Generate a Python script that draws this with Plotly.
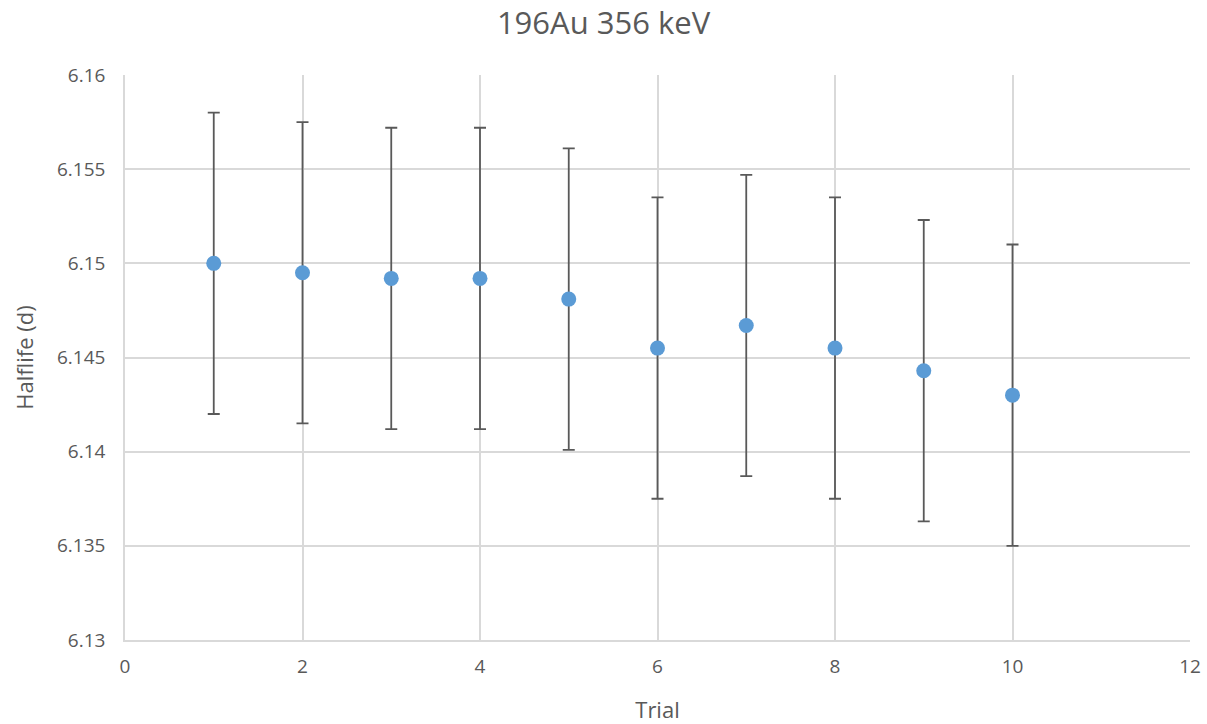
import plotly.graph_objects as go

# Half-life measurements per trial (days) and their uncertainties
trials = [1, 2, 3, 4, 5, 6, 7, 8, 9, 10]
halflife = [6.1500, 6.1495, 6.1492, 6.1492, 6.1481, 6.1455, 6.1467, 6.1455, 6.1443, 6.1430]
uncertainty = [0.008, 0.008, 0.008, 0.008, 0.008, 0.008, 0.008, 0.008, 0.008, 0.008]

x_ticks = [0, 2, 4, 6, 8, 10, 12]
y_ticks = [6.13, 6.135, 6.14, 6.145, 6.15, 6.155, 6.16]
y_tick_text = ["6.13", "6.135", "6.14", "6.145", "6.15", "6.155", "6.16"]

text_color = "#595959"
grid_color = "#d9d9d9"
font_family = "Open Sans, Liberation Sans, sans-serif"

fig = go.Figure(
    go.Scatter(
        x=trials,
        y=halflife,
        mode="markers",
        marker=dict(color="#5b9bd5", size=15),
        error_y=dict(
            type="data",
            array=uncertainty,
            visible=True,
            color=text_color,
            thickness=1.8,
            width=6,
        ),
        showlegend=False,
    )
)

fig.update_layout(
    width=1207,
    height=724,
    paper_bgcolor="white",
    plot_bgcolor="white",
    margin=dict(l=125, r=17, t=75, b=84, autoexpand=False),
    title=dict(
        text="196Au 356 keV",
        x=0.5,
        xanchor="center",
        y=0.968,
        yanchor="middle",
        font=dict(family=font_family, size=31, color=text_color),
    ),
    font=dict(family=font_family, color=text_color, size=19),
)

fig.update_xaxes(
    range=[0, 12],
    tickvals=x_ticks,
    ticktext=[str(v) for v in x_ticks],
    showgrid=True,
    gridcolor=grid_color,
    gridwidth=1.5,
    zeroline=False,
    showline=True,
    linecolor=grid_color,
    linewidth=1.5,
    ticks="",
    automargin=False,
    ticklabelstandoff=8,
    tickfont=dict(size=19, color=text_color),
    title=dict(text="Trial", font=dict(size=22, color=text_color), standoff=26),
)

fig.update_yaxes(
    range=[6.13, 6.16],
    tickvals=y_ticks,
    ticktext=y_tick_text,
    showgrid=True,
    gridcolor=grid_color,
    gridwidth=1.5,
    zeroline=False,
    showline=True,
    linecolor=grid_color,
    linewidth=1.5,
    ticks="",
    automargin=False,
    ticklabelstandoff=14,
    tickfont=dict(size=19, color=text_color),
    title=dict(text="Halflife (d)", font=dict(size=22, color=text_color), standoff=17),
)

fig.write_html("out.html")
